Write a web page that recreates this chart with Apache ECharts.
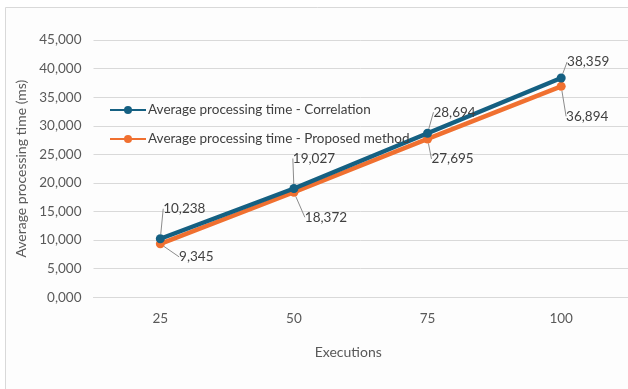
<!DOCTYPE html>
<html>
<head>
<meta charset="utf-8">
<script src="https://cdn.jsdelivr.net/npm/echarts@6/dist/echarts.min.js"></script>
<style>
  html, body { margin: 0; padding: 0; background: #ffffff; }
  #chart { width: 628px; height: 389px; }
</style>
</head>
<body>
<div id="chart"></div>
<script>
// Executions run per test
const executions = ['25', '50', '75', '100'];
// Average processing time (ms)
const correlationTimes = [10238, 19027, 28694, 38359];
const proposedTimes = [9345, 18372, 27695, 36894];
// Value axis tick labels (0 .. 45,000 in steps of 5,000)
const yTickLabels = ['0,000', '5,000', '10,000', '15,000', '20,000', '25,000', '30,000', '35,000', '40,000', '45,000'];

const seriesNames = [
  'Average processing time - Correlation',
  'Average processing time - Proposed method'
];

// Offsets of each value label from its point, per series
const labelOffsets = [
  [[24, -30], [20, -30], [27, -21], [27, -16]],
  [[36, 13], [32, 25], [25, 20], [26, 30]]
];

const FONT = 'Lato, "Noto Sans", sans-serif';
const fmt = v => v.toLocaleString('en-US');

const chart = echarts.init(document.getElementById('chart'), null, { renderer: 'canvas' });

function lineSeries(idx, name, data, color) {
  return {
    name: name,
    type: 'line',
    data: data,
    symbol: 'circle',
    symbolSize: 9,
    z: 3 - idx,
    lineStyle: { color: color, width: 4.5 },
    itemStyle: { color: color },
    label: {
      show: true,
      position: 'inside',
      formatter: p => fmt(p.value),
      color: '#404040',
      fontFamily: FONT,
      fontSize: 13.5
    },
    labelLine: {
      show: true,
      lineStyle: { color: '#8c8c8c', width: 1 }
    },
    labelLayout: p => ({
      dx: labelOffsets[idx][p.dataIndex][0],
      dy: labelOffsets[idx][p.dataIndex][1]
    }),
    emphasis: { disabled: true },
    animation: false
  };
}

chart.setOption({
  backgroundColor: '#ffffff',
  animation: false,
  graphic: [{
    type: 'rect',
    z: -10,
    shape: { x: 5.5, y: 7.5, width: 640, height: 400 },
    style: { fill: '#fdfdfd', stroke: '#d9d9d9', lineWidth: 1 }
  }],
  grid: { left: 93.5, top: 40, width: 540, bottom: 91.7, containLabel: false },
  legend: {
    orient: 'vertical',
    left: 109,
    top: 103,
    padding: 0,
    itemWidth: 36,
    itemHeight: 10,
    itemGap: 15,
    data: seriesNames,
    textStyle: { color: '#404040', fontFamily: FONT, fontSize: 13.5, padding: [0, 0, 0, -3] }
  },
  xAxis: {
    type: 'category',
    data: executions,
    boundaryGap: true,
    axisLine: { show: true, lineStyle: { color: '#d9d9d9', width: 1 } },
    axisTick: { show: false },
    axisLabel: { color: '#595959', fontFamily: FONT, fontSize: 13.5, margin: 14 },
    name: 'Executions',
    nameLocation: 'middle',
    nameGap: 48,
    nameTextStyle: { color: '#595959', fontFamily: FONT, fontSize: 14, padding: [0, 25, 0, 0] }
  },
  yAxis: {
    type: 'value',
    min: 0,
    max: 45000,
    interval: 5000,
    axisLine: { show: false },
    axisTick: { show: false },
    splitLine: { lineStyle: { color: '#d9d9d9', width: 1 } },
    axisLabel: {
      color: '#595959',
      fontFamily: FONT,
      fontSize: 13.5,
      margin: 12,
      formatter: v => yTickLabels[Math.round(v / 5000)]
    },
    name: 'Average processing time (ms)',
    nameLocation: 'middle',
    nameRotate: 90,
    nameGap: 58,
    nameTextStyle: { color: '#595959', fontFamily: FONT, fontSize: 14 }
  },
  series: [
    lineSeries(0, seriesNames[0], correlationTimes, '#156082'),
    lineSeries(1, seriesNames[1], proposedTimes, '#f07030')
  ]
});
</script>
</body>
</html>
